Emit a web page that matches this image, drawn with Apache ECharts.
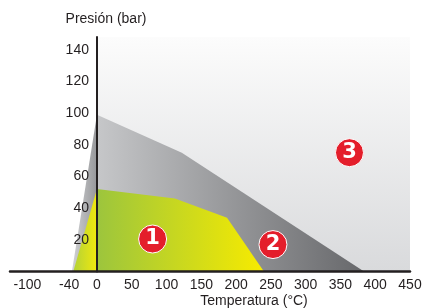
<!DOCTYPE html>
<html>
<head>
<meta charset="utf-8">
<script src="https://cdn.jsdelivr.net/npm/echarts@6/dist/echarts.min.js"></script>
<style>
  html, body { margin: 0; padding: 0; background: #fff; }
  #chart { width: 423px; height: 308px; }
</style>
</head>
<body>
<div id="chart"></div>
<script>
// ejes
const xLabels = [-100, -40, 0, 50, 100, 150, 200, 250, 300, 350, 400, 450]
const yLabels = [20, 40, 60, 80, 100, 120, 140]
const xMin = -125
const xMax = 450

// zonas [temperatura, presion]
const plotArea = [[0, 148], [450, 148]]
const grayLeft = [[-36, 0], [0, 99]]
const grayRight = [[0, 99], [122, 75], [384, 0]]
const yellowLeft = [[-34, 0], [0, 52]]
const yellowRight = [[0, 52], [112, 46], [187, 34], [240, 0]]

// numeros de zona
const zoneMarks = [[80, 20.5, '1'], [253, 17, '2'], [363, 75, '3']]

const font = 'Liberation Sans, Arial, sans-serif'
const ink = '#231f20'

const gridLeft = 10
const gridWidth = 400
// el eje Y se coloca en 0 °C
const yAxisShift = gridWidth * (0 - xMin) / (xMax - xMin)

function hGrad(c1, c2) {
  return { type: 'linear', x: 0, y: 0, x2: 1, y2: 0, colorStops: [{ offset: 0, color: c1 }, { offset: 1, color: c2 }] }
}

function zone(data, fill, z) {
  return {
    type: 'line',
    data: data,
    symbol: 'none',
    silent: true,
    z: z,
    lineStyle: { width: 0, opacity: 0 },
    areaStyle: { color: fill, opacity: 1 }
  }
}

const chart = echarts.init(document.getElementById('chart'))

chart.setOption({
  animation: false,
  grid: { left: gridLeft, width: gridWidth, top: 37, bottom: 36.5, outerBoundsMode: 'none', containLabel: false },
  xAxis: {
    type: 'value',
    min: xMin,
    max: xMax,
    z: 10,
    splitLine: { show: false },
    axisTick: { show: false },
    axisLine: { onZero: false, lineStyle: { color: ink, width: 2.5 } },
    axisLabel: {
      customValues: xLabels,
      margin: 7,
      color: ink,
      fontSize: 14,
      fontFamily: font
    }
  },
  yAxis: {
    type: 'value',
    min: 0,
    max: 148,
    z: 10,
    offset: -yAxisShift,
    splitLine: { show: false },
    axisTick: { show: false },
    axisLine: { onZero: false, lineStyle: { color: ink, width: 2 } },
    axisLabel: {
      customValues: yLabels,
      margin: 8,
      color: ink,
      fontSize: 14,
      fontFamily: font
    }
  },
  graphic: [
    { type: 'text', x: 254, y: 50, style: { text: 'Límites Presión/Temperatura', fill: ink, font: '14px ' + font, textAlign: 'center', textVerticalAlign: 'middle' } },
    { type: 'text', x: 106, y: 19, style: { text: 'Presión (bar)', fill: ink, font: '14px ' + font, textAlign: 'center', textVerticalAlign: 'middle' } },
    { type: 'text', x: 254, y: 301, style: { text: 'Temperatura (°C)', fill: ink, font: '14px ' + font, textAlign: 'center', textVerticalAlign: 'middle' } }
  ],
  series: [
    zone(plotArea, { type: 'linear', x: 0, y: 0, x2: 0, y2: 1, colorStops: [{ offset: 0, color: '#fcfcfc' }, { offset: 1, color: '#d9dadc' }] }, 1),
    zone(grayLeft, hGrad('#d2d3d5', '#96979a'), 2),
    zone(grayRight, hGrad('#c6c7c9', '#67686b'), 2),
    zone(yellowLeft, hGrad('#b4d236', '#f0e80e'), 3),
    zone(yellowRight, hGrad('#9cc53d', '#f7eb00'), 3),
    {
      type: 'scatter',
      data: zoneMarks,
      symbolSize: 28,
      silent: true,
      z: 5,
      itemStyle: { color: '#e41e2b', borderColor: '#ffffff', borderWidth: 1, opacity: 1 },
      label: {
        show: true,
        position: 'inside',
        formatter: p => p.data[2],
        color: '#ffffff',
        fontSize: 21,
        fontWeight: 'bold',
        fontFamily: 'DejaVu Sans, sans-serif'
      }
    }
  ]
})
</script>
</body>
</html>
